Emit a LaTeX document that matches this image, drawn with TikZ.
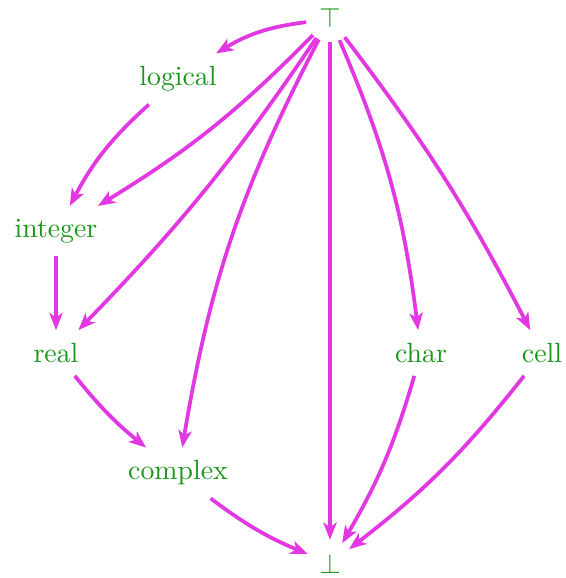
\documentclass[tikz,border=0pt]{standalone}
\usetikzlibrary{arrows.meta}
\definecolor{edgec}{RGB}{226,56,226}
\definecolor{textc}{RGB}{25,150,25}
\begin{document}
\begin{tikzpicture}[x=0.36pt,y=-0.36pt,
  lbl/.style={text=textc,inner sep=4.5pt},
  ext/.style={text=textc,circle,minimum size=17pt,inner sep=0pt},
  edge/.style={draw=edgec,line width=1.35pt,-{Stealth[length=6.2pt,width=4.8pt,inset=1.6pt]}}]
\useasboundingbox (0,0) rectangle (565,578);
\node[ext] (top) at (330,18) {$\top$};
\node[ext] (bot) at (330,564) {$\bot$};
\node[lbl] (logical) at (178,79) {logical};
\node[lbl] (integer) at (56,231) {integer};
\node[lbl] (real) at (56,353) {real};
\node[lbl] (char) at (421,353) {char};
\node[lbl] (cell) at (542,353) {cell};
\node[lbl] (complex) at (178,473) {complex};
\draw[edge] (top) to[bend right=12] (logical);
\draw[edge] (top) to[bend left=7] (integer);
\draw[edge] (top) to[bend left=5] (real);
\draw[edge] (top) to[bend right=9] (complex);
\draw[edge] (top) -- (bot);
\draw[edge] (top) to[bend left=8] (char);
\draw[edge] (top) to[bend left=5] (cell);
\draw[edge] (logical) to[bend right=10] (integer);
\draw[edge] (integer) -- (real);
\draw[edge] (real) to[bend right=6] (complex);
\draw[edge] (complex) to[bend right=7] (bot);
\draw[edge] (char) to[bend left=7] (bot);
\draw[edge] (cell) to[bend left=7] (bot);
\end{tikzpicture}
\end{document}
